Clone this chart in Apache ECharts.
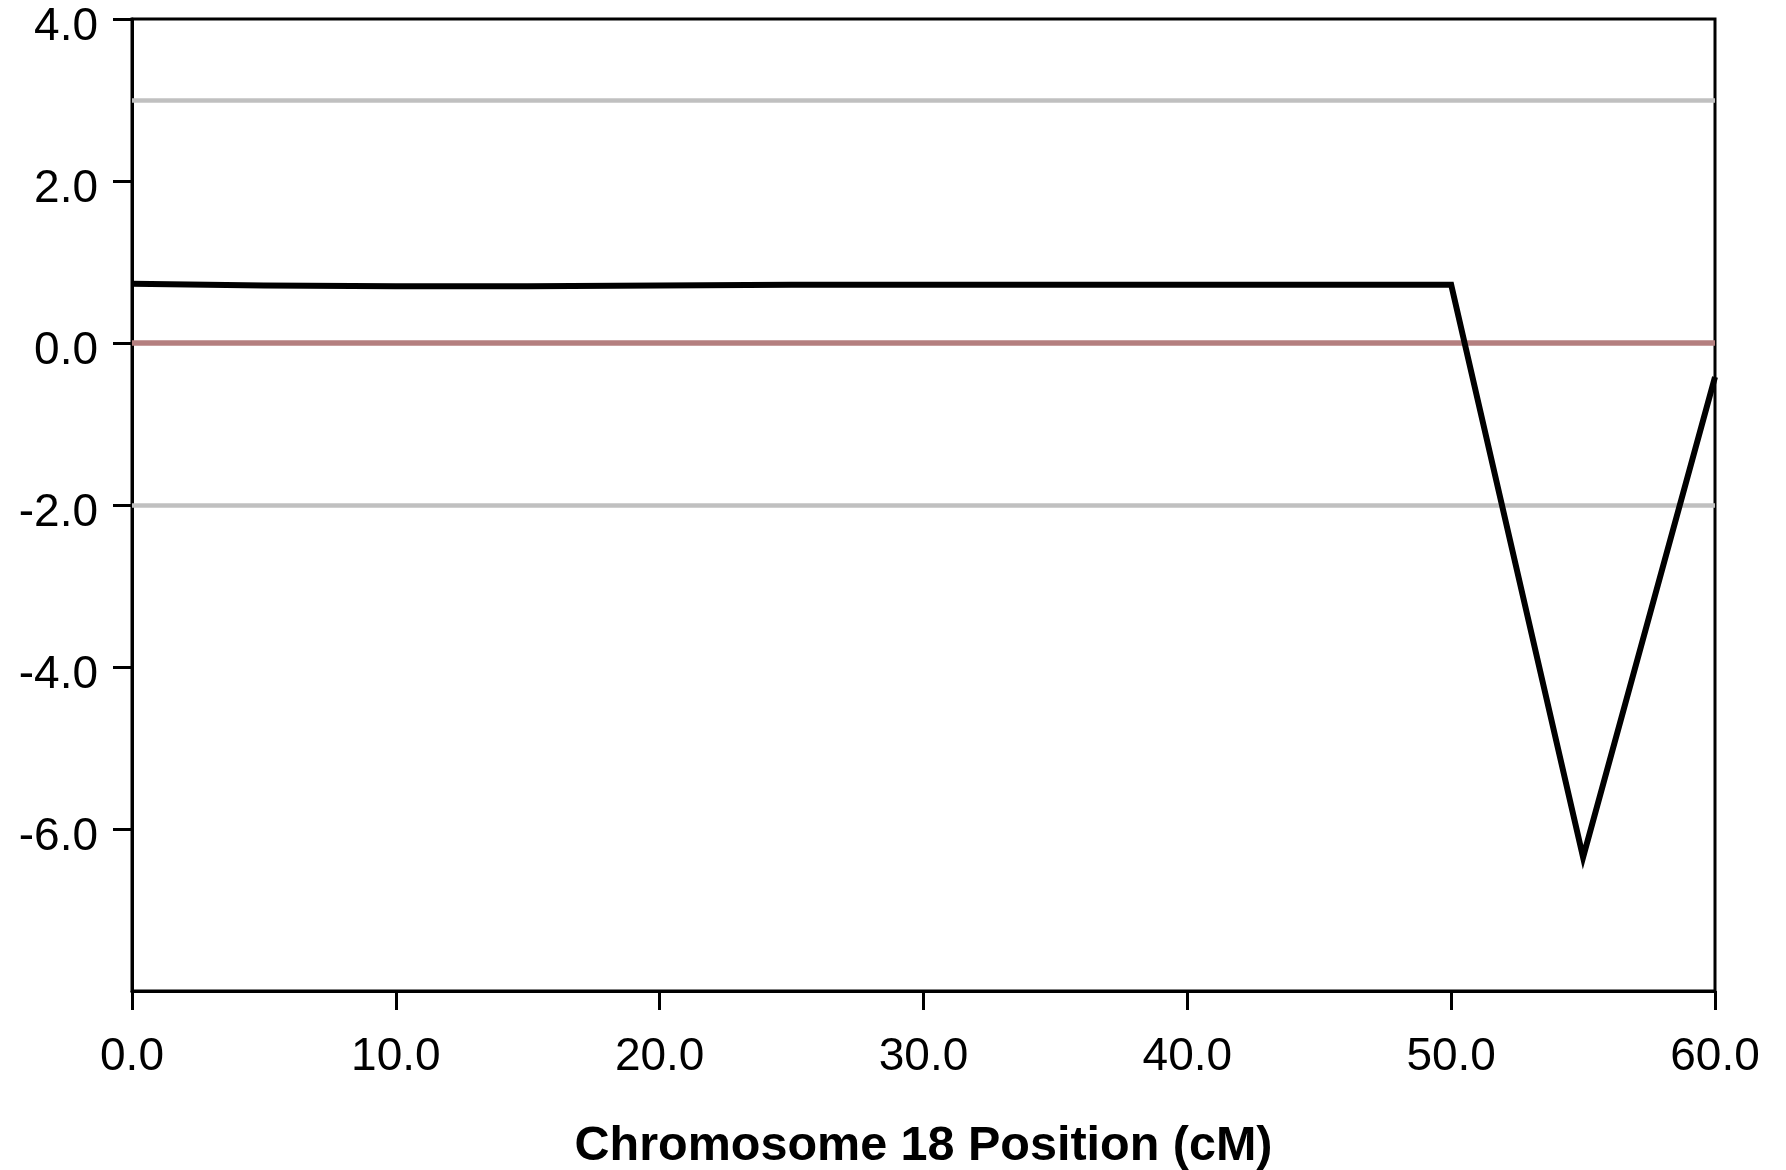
<!DOCTYPE html>
<html>
<head>
<meta charset="utf-8">
<script src="https://cdn.jsdelivr.net/npm/echarts@6/dist/echarts.min.js"></script>
<style>
  html, body { margin: 0; padding: 0; background: #fff; }
  #chart { width: 1786px; height: 1170px; }
</style>
</head>
<body>
<div id="chart"></div>
<script>
// position along chromosome 18 (cM) and score
var positions = [0, 5, 10, 15, 20, 25, 30, 35, 40, 45, 50, 55, 60];
var scores = [0.73, 0.71, 0.70, 0.70, 0.71, 0.72, 0.72, 0.72, 0.72, 0.72, 0.72, -6.35, -0.42];
// reference lines
var grayLines = [3, -2];
var zeroLine = [0];
var xTicks = [0, 10, 20, 30, 40, 50, 60];
var yTicks = [-6, -4, -2, 0, 2, 4];
var yMin = -8, yMax = 4;

var dom = document.getElementById('chart');
var myChart = echarts.init(dom);

var lineData = positions.map(function (p, i) { return [p, scores[i]]; });

function hline(vals, color, width) {
    return vals.map(function (v) {
        return { yAxis: v, lineStyle: { color: color, width: width, type: 'solid' } };
    });
}

var option = {
    animation: false,
    backgroundColor: '#fff',
    textStyle: { fontFamily: 'Liberation Sans, Arial, sans-serif' },
    grid: {
        left: 132, right: 71, top: 19, bottom: 179,
        containLabel: false, outerBoundsMode: 'none',
        show: true, borderColor: '#000', borderWidth: 3, backgroundColor: 'transparent'
    },
    xAxis: {
        type: 'value',
        min: xTicks[0],
        max: xTicks[xTicks.length - 1],
        interval: 10,
        name: 'Chromosome 18 Position (cM)',
        nameLocation: 'middle',
        nameGap: 131,
        nameTextStyle: { color: '#000', fontSize: 48.5, fontWeight: 'bold', fontFamily: 'Liberation Sans, Arial, sans-serif' },
        splitLine: { show: false },
        axisLine: { onZero: false, lineStyle: { color: '#000', width: 3 } },
        axisTick: { length: 19, lineStyle: { color: '#000', width: 3 } },
        axisLabel: {
            color: '#000', fontSize: 46, margin: 43,
            formatter: function (v) { return v.toFixed(1); }
        }
    },
    yAxis: {
        type: 'value',
        min: yMin,
        max: yMax,
        interval: 2,
        splitLine: { show: false },
        axisLine: { onZero: false, lineStyle: { color: '#000', width: 3 } },
        axisTick: { length: 19, customValues: yTicks, lineStyle: { color: '#000', width: 3 } },
        axisLabel: {
            color: '#000', fontSize: 46, margin: 34, customValues: yTicks,
            // labels sit a little below their ticks in the original
            formatter: function (v) { return '{v|' + v.toFixed(1) + '}'; },
            rich: {
                v: { color: '#000', fontSize: 46, padding: [16, 0, 0, 0], fontFamily: 'Liberation Sans, Arial, sans-serif' }
            }
        }
    },
    series: [
        {
            type: 'line',
            data: [],
            z: 1,
            markLine: {
                silent: true,
                symbol: 'none',
                label: { show: false },
                data: hline(grayLines, '#c0c0c0', 4.5).concat(hline(zeroLine, '#b47f7f', 5.5))
            }
        },
        {
            type: 'line',
            data: lineData,
            z: 5,
            showSymbol: false,
            symbol: 'none',
            lineStyle: { color: '#000', width: 6, join: 'miter' }
        }
    ]
};

myChart.setOption(option, true);
</script>
</body>
</html>
